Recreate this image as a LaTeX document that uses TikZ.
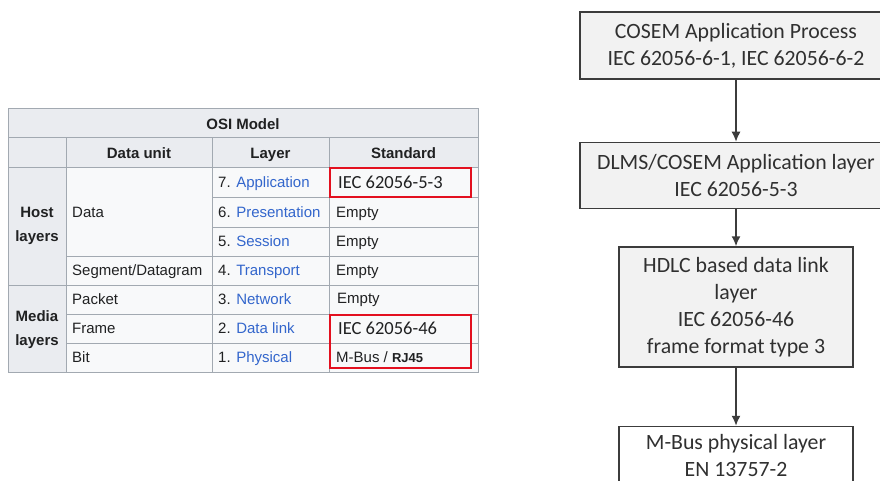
\documentclass[tikz,border=0pt]{standalone}
\usepackage{fontspec}
\setmainfont{Liberation Sans}
\newfontfamily\calib{Carlito}
\usetikzlibrary{positioning,arrows.meta}
\definecolor{wkbg}{HTML}{F8F9FA}
\definecolor{wkhd}{HTML}{EAECF0}
\definecolor{wkln}{HTML}{A2A9B1}
\definecolor{wktx}{HTML}{202122}
\definecolor{wklk}{HTML}{3366CC}
\definecolor{redbox}{HTML}{E3101F}
\definecolor{boxln}{HTML}{3C3C3C}
\definecolor{boxtx}{HTML}{303030}

\begin{document}
\begin{tikzpicture}
        [x=1pt, y=-1pt,
         cell/.style={anchor=west, inner sep=0pt, text height=10.8pt, text depth=0pt, text=wktx, font=\fontsize{15}{18}\selectfont},
         head/.style={cell, anchor=center, font=\fontsize{15}{18}\selectfont\bfseries},
         grp/.style={inner sep=0pt, align=center, text=wktx, font=\fontsize{15}{24}\selectfont\bfseries},
         std/.style={cell, text height=11.9pt, font=\calib\fontsize{18.5}{22}\selectfont},
         layer/.style={draw=boxln, line width=1.5pt, fill=gray!10, text=boxtx, align=center, font=\calib\fontsize{21.8}{26.8}\selectfont}]
        
        \useasboundingbox (0,0) rectangle (880,481);
        \clip (0,0) rectangle (880,481);
        \fill[white] (0,0) rectangle (880,481);
        
        \fill[wkbg] (8,109) rectangle (478,372);
        \fill[wkhd] (8,109) rectangle (478,168);
        \fill[wkhd] (8,168) rectangle (66,372);
        \draw[wkln, line width=1pt] (8,138) -- (478,138) (8,168) -- (478,168)
                (212,197) -- (478,197) (212,227) -- (478,227) (66,256) -- (478,256)
                (8,285) -- (478,285) (66,314) -- (478,314) (66,343) -- (478,343)
                (66,138) -- (66,372) (212,138) -- (212,372) (329,138) -- (329,372);
        \draw[wkln, line width=1pt] (8,109) rectangle (478,372);
        
        \node [head]  (osi)   at (243,124)   {OSI Model};
        \node [head]  (du)    at (139,153)   {Data unit};
        \node [head]  (ly)    at (270.5,153) {Layer};
        \node [head]  (st)    at (403.5,153) {Standard};
        \node [grp]   (host)  at (37,226)    {Host\\layers};
        \node [grp]   (media) at (37,330)    {Media\\layers};
        
        \node [cell] (du7) at (72,212)   {Data};
        \node [cell] (du4) at (72,270.5) {Segment/Datagram};
        \node [cell] (du3) at (72,299.5) {Packet};
        \node [cell] (du2) at (72,328.5) {Frame};
        \node [cell] (du1) at (72,357.5) {Bit};
        
        \node [cell] (ly7) at (218,182.5) {7. \textcolor{wklk}{Application}};
        \node [cell] (ly6) at (218,212)   {6. \textcolor{wklk}{Presentation}};
        \node [cell] (ly5) at (218,241)   {5. \textcolor{wklk}{Session}};
        \node [cell] (ly4) at (218,270.5) {4. \textcolor{wklk}{Transport}};
        \node [cell] (ly3) at (218,299.5) {3. \textcolor{wklk}{Network}};
        \node [cell] (ly2) at (218,328.5) {2. \textcolor{wklk}{Data link}};
        \node [cell] (ly1) at (218,357.5) {1. \textcolor{wklk}{Physical}};
        
        \node [std]  (st7) at (338,182.5) {IEC 62056-5-3};
        \node [cell] (st6) at (336,212)   {Empty};
        \node [cell] (st5) at (336,241)   {Empty};
        \node [cell] (st4) at (336,270.5) {Empty};
        \node [cell] (st3) at (337,298.5) {Empty};
        \node [std]  (st2) at (338,329)   {IEC 62056-46};
        \node [cell] (st1) at (336,357.5) {M-Bus / {\bfseries\fontsize{13}{15}\selectfont RJ45}};
        
        \draw[redbox, line width=2.6pt] (330,168) rectangle (471,197);
        \draw[redbox, line width=2.6pt] (330,315) rectangle (471,368);
        
        \node [layer, minimum width=312pt, minimum height=67pt] (p1) at (736,45.5)
                {COSEM Application Process\\IEC 62056-6-1, IEC 62056-6-2};
        \node [layer, minimum width=312pt, minimum height=66pt] (p2) [below=62pt of p1]
                {DLMS/COSEM Application layer\\IEC 62056-5-3};
        \node [layer, minimum width=234pt, minimum height=120pt] (p3) [below=37pt of p2]
                {HDLC based data link\\layer\\IEC 62056-46\\frame format type 3};
        \node [layer, fill=white, minimum width=234pt, minimum height=58pt] (p4) [below=58pt of p3]
                {M-Bus physical layer\\EN 13757-2};
        
        \draw[-{Latex[length=10pt, width=9pt]}, line width=1.5pt, boxln] (p1) edge (p2);
        \draw[-{Latex[length=10pt, width=9pt]}, line width=1.5pt, boxln] (p2) edge (p3);
        \draw[-{Latex[length=10pt, width=9pt]}, line width=1.5pt, boxln] (p3) edge (p4);
        
\end{tikzpicture}
\end{document}
